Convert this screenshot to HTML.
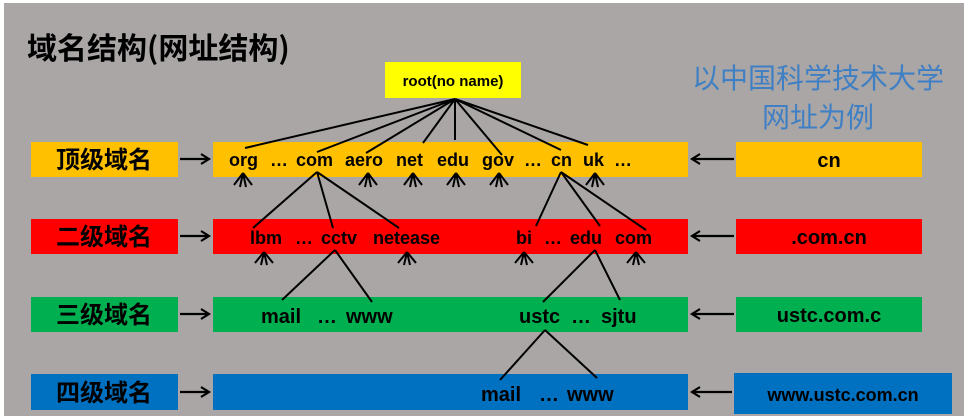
<!DOCTYPE html>
<html><head><meta charset="utf-8"><style>
html,body{margin:0;padding:0;background:#fff;}
svg{display:block;}
text{font-family:"Liberation Sans","Noto Sans CJK SC",sans-serif;font-weight:bold;fill:#000;}
.c{font-family:"Noto Sans CJK SC","WenQuanYi Zen Hei",sans-serif;}
</style></head><body>
<svg width="968" height="419" viewBox="0 0 968 419" xmlns="http://www.w3.org/2000/svg">
<rect x="4" y="3" width="960" height="413" fill="#aaa6a6"/>
<text x="27" y="59" font-size="30" class="c" font-weight="bold">域名结构(网址结构)</text>
<text x="818" y="88" font-size="28" class="c" text-anchor="middle" style="fill:#3f7fc4;font-weight:normal">以中国科学技术大学</text>
<text x="818" y="127" font-size="28" class="c" text-anchor="middle" style="fill:#3f7fc4;font-weight:normal">网址为例</text>
<rect x="385" y="62" width="136" height="36" fill="#ffff00"/>
<text x="453" y="86" font-size="15" text-anchor="middle">root(no name)</text>
<g>
<rect x="31" y="142" width="147" height="35" fill="#ffc000"/><rect x="213" y="142" width="475" height="35" fill="#ffc000"/><rect x="736" y="142" width="186" height="35" fill="#ffc000"/>
<rect x="31" y="219" width="147" height="35" fill="#ff0000"/><rect x="213" y="219" width="475" height="35" fill="#ff0000"/><rect x="736" y="219" width="186" height="35" fill="#ff0000"/>
<rect x="31" y="297" width="147" height="35" fill="#00b050"/><rect x="213" y="297" width="475" height="35" fill="#00b050"/><rect x="736" y="297" width="186" height="35" fill="#00b050"/>
<rect x="31" y="374" width="147" height="36" fill="#0070c0"/><rect x="213" y="374" width="475" height="36" fill="#0070c0"/><rect x="734" y="373" width="218" height="41" fill="#0070c0"/>
</g>
<g font-size="24" text-anchor="middle">
<text x="104" y="168" class="c">顶级域名</text>
<text x="104" y="245" class="c">二级域名</text>
<text x="104" y="323" class="c">三级域名</text>
<text x="104" y="401" class="c">四级域名</text>
</g>
<g font-size="20" text-anchor="middle">
<text x="829" y="167">cn</text>
<text x="829" y="244">.com.cn</text>
<text x="829" y="322">ustc.com.c</text>
<text x="843" y="401" font-size="18">www.ustc.com.cn</text>
</g>
<g stroke="#000" stroke-width="2.2" fill="none">
<path d="M180 159H208M201 154L209 159L201 164"/>
<path d="M180 236H208M201 231L209 236L201 241"/>
<path d="M180 314H208M201 309L209 314L201 319"/>
<path d="M180 392H208M201 387L209 392L201 397"/>
<path d="M734 159H693M700 154L692 159L700 164"/>
<path d="M734 236H693M700 231L692 236L700 241"/>
<path d="M734 314H693M700 309L692 314L700 319"/>
<path d="M732 392H693M700 387L692 392L700 397"/>
</g>
<g stroke="#000" stroke-width="2" fill="none">
<path d="M455 99L245 148M455 99L317 152M455 99L366 153M455 99L423 143M455 99L455 140M455 99L502 155M455 99L561 150M455 99L588 145"/>
<path d="M317 172L253 228M317 172L333 228M317 172L399 228"/>
<path d="M561 172L536 226M561 172L600 226M561 172L646 230"/>
<path d="M335 250L282 300M335 250L372 302"/>
<path d="M595 250L543 302M595 250L620 300"/>
<path d="M545 330L500 380M545 330L597 378"/>
</g>
<g stroke="#000" stroke-width="2" fill="none">
<path d="M243 173l-9 12M243 173l-3 14M243 173l3 14M243 173l9 12"/>
<path d="M368 173l-9 12M368 173l-3 14M368 173l3 14M368 173l9 12"/>
<path d="M413 173l-9 12M413 173l-3 14M413 173l3 14M413 173l9 12"/>
<path d="M456 173l-9 12M456 173l-3 14M456 173l3 14M456 173l9 12"/>
<path d="M499 173l-9 12M499 173l-3 14M499 173l3 14M499 173l9 12"/>
<path d="M595 173l-9 12M595 173l-3 14M595 173l3 14M595 173l9 12"/>
<path d="M264 252l-9 11M264 252l-3 13M264 252l3 13M264 252l9 11"/>
<path d="M407 252l-9 11M407 252l-3 13M407 252l3 13M407 252l9 11"/>
<path d="M524 252l-9 11M524 252l-3 13M524 252l3 13M524 252l9 11"/>
<path d="M636 252l-9 11M636 252l-3 13M636 252l3 13M636 252l9 11"/>
</g>
<g font-size="18">
<text x="229" y="166">org</text><text x="270" y="166">…</text><text x="296" y="166">com</text><text x="345" y="166">aero</text><text x="396" y="166">net</text><text x="437" y="166">edu</text><text x="482" y="166">gov</text><text x="524" y="166">…</text><text x="551" y="166">cn</text><text x="583" y="166">uk</text><text x="614" y="166">…</text>
<text x="250" y="244">lbm</text><text x="295" y="244">…</text><text x="321" y="244">cctv</text><text x="373" y="244">netease</text><text x="516" y="244">bi</text><text x="544" y="244">…</text><text x="570" y="244">edu</text><text x="615" y="244">com</text>
</g>
<g font-size="20">
<text x="261" y="323">mail</text><text x="317" y="323">…</text><text x="346" y="323">www</text><text x="519" y="323">ustc</text><text x="571" y="323">…</text><text x="601" y="323">sjtu</text>
<text x="481" y="401">mail</text><text x="539" y="401">…</text><text x="567" y="401">www</text>
</g>
</svg>
</body></html>
